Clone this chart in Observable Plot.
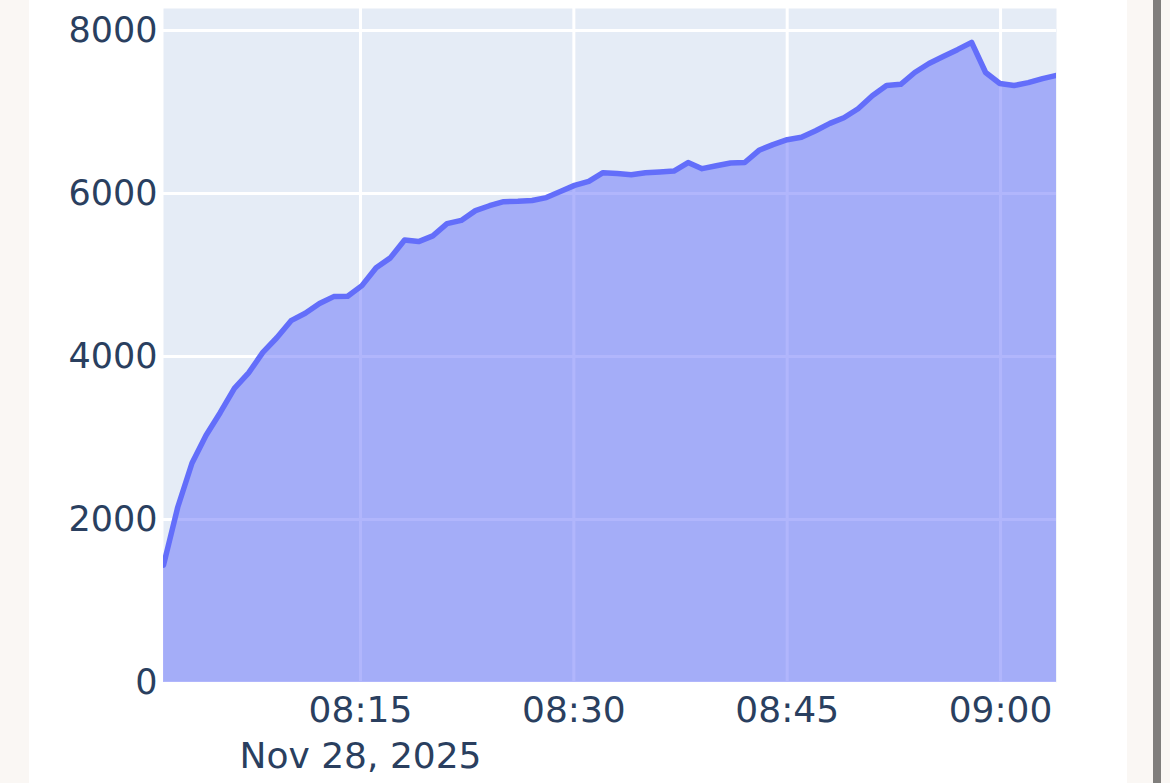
<!DOCTYPE html>
<html>
<head>
<meta charset="utf-8">
<script src="https://cdn.jsdelivr.net/npm/d3@7"></script>
<script src="https://cdn.jsdelivr.net/npm/@observablehq/plot@0.6"></script>
<style>
  html, body { margin: 0; padding: 0; background: #faf7f4; width: 1170px; height: 783px; overflow: hidden; }
  #page { position: absolute; left: 29px; top: 0; width: 1098px; height: 783px; background: #ffffff; }
  #bar { position: absolute; left: 1153px; top: 0; width: 8px; height: 783px; background: #807e7c; }
  #chart { position: absolute; left: 0; top: 0; }
</style>
</head>
<body>
<div id="page"></div>
<div id="bar"></div>
<div id="chart"></div>
<script>
const day = "2025-11-28";
const times = [
  "08:01:09","08:02:09","08:03:09","08:04:08","08:05:08","08:06:08","08:07:08","08:08:08",
  "08:09:07","08:10:07","08:11:07","08:12:07","08:13:07","08:14:06","08:15:06","08:16:06",
  "08:17:06","08:18:06","08:19:05","08:20:05","08:21:05","08:22:05","08:23:05","08:24:04",
  "08:25:04","08:26:04","08:27:04","08:28:04","08:29:03","08:30:03","08:31:03","08:32:03",
  "08:33:03","08:34:02","08:35:02","08:36:02","08:37:02","08:38:02","08:39:01","08:40:01",
  "08:41:01","08:42:01","08:43:01","08:44:00","08:45:00","08:46:00","08:47:00","08:48:00",
  "08:48:59","08:49:59","08:50:59","08:51:59","08:52:59","08:53:58","08:54:58","08:55:58",
  "08:56:58","08:57:58","08:58:57","08:59:57","09:00:57","09:01:57","09:02:57","09:03:56"
];
const values = [
  1440, 2150, 2690, 3030, 3310, 3610, 3800, 4050,
  4230, 4440, 4530, 4650, 4735, 4740, 4870, 5090,
  5210, 5430, 5410, 5480, 5630, 5670, 5790, 5850,
  5900, 5905, 5915, 5950, 6025, 6100, 6150, 6255,
  6245, 6230, 6255, 6265, 6275, 6380, 6305, 6340,
  6375, 6380, 6530, 6600, 6660, 6690, 6770, 6860,
  6930, 7040, 7200, 7325, 7340, 7485, 7595, 7680,
  7765, 7855, 7485, 7350, 7325, 7360, 7410, 7450
];
const xTickTimes = ["08:15", "08:30", "08:45", "09:00"];
const xTickLabels = ["08:15\nNov 28, 2025", "08:30", "08:45", "09:00"];
const yTicks = [0, 2000, 4000, 6000, 8000];
const yMax = 8270;

const toDate = t => new Date(`${day}T${t.length === 5 ? t + ":00" : t}Z`);
const data = times.map((t, i) => ({time: toDate(t), value: values[i]}));
const xTicks = xTickTimes.map(toDate);
const xLabel = d => xTickLabels[xTicks.findIndex(t => +t === +d)];

const textColor = "#2a3f5f";
const font = "'DejaVu Sans', Verdana, sans-serif";

const chart = Plot.plot({
  width: 1170,
  height: 783,
  marginLeft: 163,
  marginRight: 114,
  marginTop: 8,
  marginBottom: 101,
  style: {background: "transparent", fontFamily: font, overflow: "visible"},
  x: {type: "utc", domain: [data[0].time, data[data.length - 1].time]},
  y: {domain: [0, yMax]},
  marks: [
    Plot.frame({fill: "#E5ECF6", stroke: null}),
    Plot.gridX(xTicks, {stroke: "#ffffff", strokeOpacity: 1, strokeWidth: 3}),
    Plot.gridY(yTicks, {stroke: "#ffffff", strokeOpacity: 1, strokeWidth: 3}),
    Plot.areaY(data, {x: "time", y: "value", fill: "#636efa", fillOpacity: 0.5, clip: true}),
    Plot.lineY(data, {x: "time", y: "value", stroke: "#636efa", strokeWidth: 5.5, strokeLinejoin: "round", clip: true}),
    Plot.axisY(yTicks, {tickSize: 0, tickPadding: 6, fontSize: 35, fill: textColor, label: null, tickFormat: d => String(d)}),
    Plot.axisX(xTicks, {tickSize: 0, tickPadding: 7, fontSize: 36, lineHeight: 1.28, fill: textColor, label: null, tickFormat: xLabel})
  ]
});
document.getElementById("chart").appendChild(chart);
</script>
</body>
</html>
